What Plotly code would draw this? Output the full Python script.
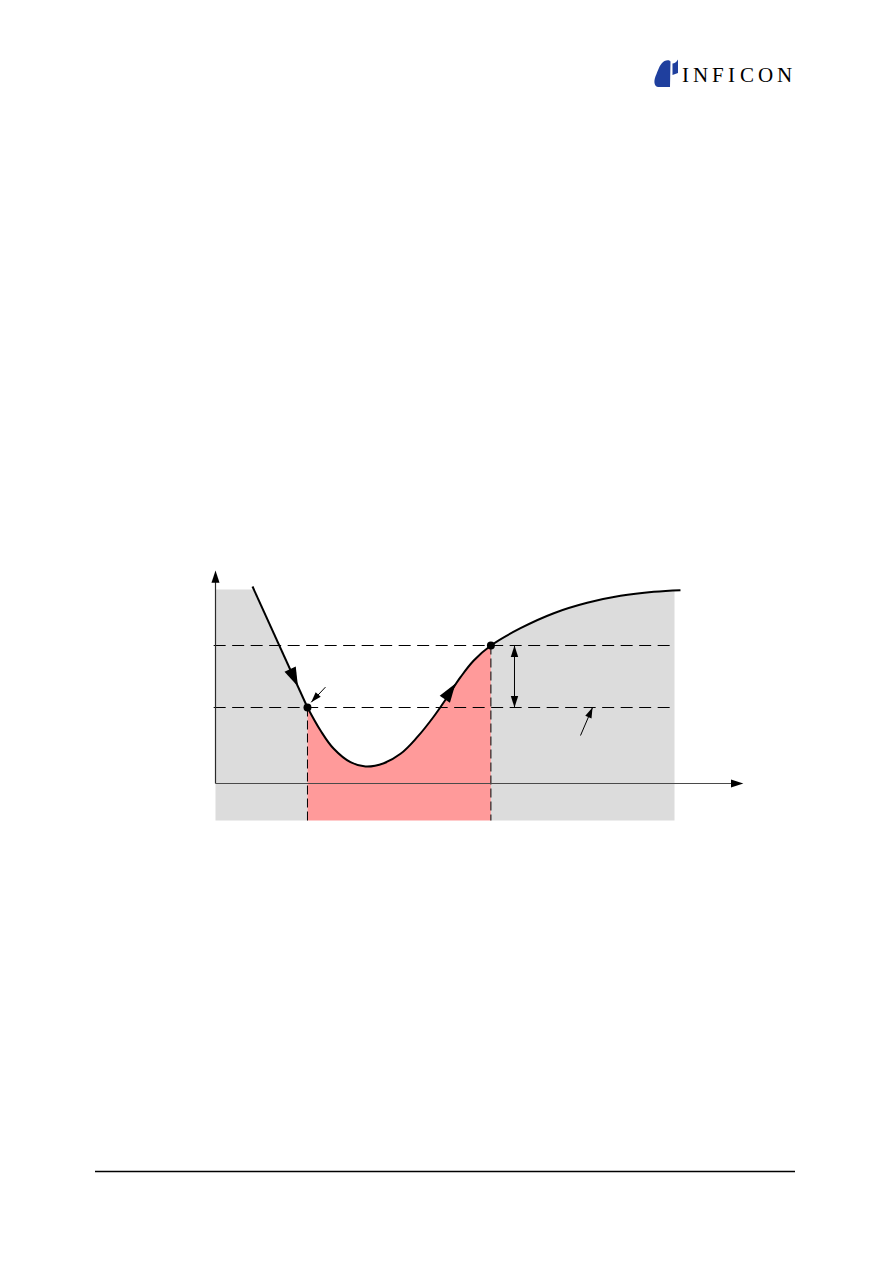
import plotly.graph_objects as go

# ---------------- data (chart units: t horizontally, p vertically) ----------------
ramp_t = [0.806, 2.004]
ramp_p = [9.85, 3.80]

curve_t = [2.004, 2.288, 2.577, 2.941, 3.268, 3.667, 4.031, 4.394, 4.756, 5.048,
           5.338, 5.627, 6.000, 6.645, 7.370, 8.098, 8.824, 9.549, 10.13]
curve_p = [3.80, 2.65, 1.735, 1.065, 0.85, 1.015, 1.485, 2.315, 3.35, 4.315,
           5.315, 6.15, 6.90, 7.765, 8.515, 9.035, 9.385, 9.585, 9.665]

upper_level = 6.9
lower_level = 3.8
t_low_cross = 2.004
t_high_cross = 6.0
t_end = 10.0
p_end_fill = 9.65
pre_level = 9.7
base_p = -1.85
y_axis_top = 10.65
x_axis_end = 11.50

arrow_down_tip = (1.797, 4.85)
arrow_up_tip = (5.229, 5.0)
gap_arrow_t = 6.514
pointer1 = [(2.396, 4.82), (2.085, 4.06)]
pointer2 = [(7.952, 2.40), (8.214, 3.80)]

logo_letters = ["I", "N", "F", "I", "C", "O", "N"]
logo_centers_px = [685.5, 700.7, 718.3, 731.8, 746.5, 765.2, 784.4]

# ---------------- geometry / style ----------------
W, H = 894, 1263
ORIGIN_PX = (215.5, 783.5)   # pixel centre of the axis origin
PX_PER_T = 45.9
PX_PER_P = 20.0
GRAY = "#dcdcdc"
PINK = "#ff9a9a"

t_range = [-ORIGIN_PX[0] / PX_PER_T, (W - ORIGIN_PX[0]) / PX_PER_T]
p_range = [-(H - ORIGIN_PX[1]) / PX_PER_P, ORIGIN_PX[1] / PX_PER_P]

fig = go.Figure()


def add(tr):
    tr.update(hoverinfo="skip", showlegend=False)
    fig.add_trace(tr)


# left gray area (flat pre-level, then under the ramp)
frac = (ramp_p[0] - pre_level) / (ramp_p[0] - ramp_p[1])
t_pre_end = ramp_t[0] + frac * (ramp_t[1] - ramp_t[0])
add(go.Scatter(x=[0, 0, t_pre_end, ramp_t[1], ramp_t[1], 0],
               y=[base_p, pre_level, pre_level, ramp_p[1], base_p, base_p],
               mode="lines", line=dict(width=0), fill="toself", fillcolor=GRAY))

# pink area under curve between crossings
pk_t = [t for t in curve_t if t_low_cross <= t <= t_high_cross]
pk_p = [p for t, p in zip(curve_t, curve_p) if t_low_cross <= t <= t_high_cross]
add(go.Scatter(x=pk_t, y=[base_p] * len(pk_t), mode="lines", line=dict(width=0)))
add(go.Scatter(x=pk_t, y=pk_p, mode="lines", line=dict(width=0, shape="spline"),
               fill="tonexty", fillcolor=PINK))

# right gray area under curve
rg_t = [t for t in curve_t if t_high_cross <= t < t_end] + [t_end]
rg_p = [p for t, p in zip(curve_t, curve_p) if t_high_cross <= t < t_end] + [p_end_fill]
add(go.Scatter(x=rg_t, y=[base_p] * len(rg_t), mode="lines", line=dict(width=0)))
add(go.Scatter(x=rg_t, y=rg_p, mode="lines", line=dict(width=0, shape="spline"),
               fill="tonexty", fillcolor=GRAY))

# dashed threshold lines
for lvl in (upper_level, lower_level):
    add(go.Scatter(x=[-0.04, t_end], y=[lvl, lvl], mode="lines",
                   line=dict(color="black", width=1, dash="12px,6.5px")))
add(go.Scatter(x=[t_low_cross, t_low_cross], y=[lower_level, base_p], mode="lines",
               line=dict(color="black", width=1, dash="9px,4px")))
add(go.Scatter(x=[t_high_cross, t_high_cross], y=[upper_level, base_p], mode="lines",
               line=dict(color="black", width=1, dash="9px,4px")))

# axes
add(go.Scatter(x=[0, 0], y=[0, y_axis_top - 0.4], mode="lines",
               line=dict(color="#2a2a2a", width=1.2)))
add(go.Scatter(x=[0, x_axis_end - 0.2], y=[0, 0], mode="lines",
               line=dict(color="#4a4a4a", width=1.2)))
add(go.Scatter(x=[0, x_axis_end], y=[y_axis_top, 0], mode="markers",
               marker=dict(symbol="arrow", size=13, color="black", angle=[0, 90],
                           line=dict(width=0))))

# signal: ramp + curve
add(go.Scatter(x=ramp_t, y=ramp_p, mode="lines", line=dict(color="black", width=2)))
add(go.Scatter(x=curve_t, y=curve_p, mode="lines",
               line=dict(color="black", width=2, shape="spline", smoothing=1.1)))

# direction arrows on the signal
add(go.Scatter(x=[arrow_down_tip[0], arrow_up_tip[0]], y=[arrow_down_tip[1], arrow_up_tip[1]],
               mode="markers",
               marker=dict(symbol="arrow", size=20, color="black", angle=[155.6, 34.2],
                           line=dict(width=0))))

# crossing points
add(go.Scatter(x=[t_low_cross, t_high_cross], y=[lower_level, upper_level], mode="markers",
               marker=dict(symbol="circle", size=8, color="black")))

# hysteresis double arrow
add(go.Scatter(x=[gap_arrow_t, gap_arrow_t], y=[upper_level, lower_level], mode="lines",
               line=dict(color="black", width=1)))
add(go.Scatter(x=[gap_arrow_t, gap_arrow_t], y=[upper_level, lower_level], mode="markers",
               marker=dict(symbol="arrow", size=12, color="black", angle=[0, 180],
                           line=dict(width=0))))

# pointer arrows
for (s, e), ang in ((pointer1, 222.0), (pointer2, 23.2)):
    add(go.Scatter(x=[s[0], e[0]], y=[s[1], e[1]], mode="lines",
                   line=dict(color="black", width=1)))
    add(go.Scatter(x=[e[0]], y=[e[1]], mode="markers",
                   marker=dict(symbol="arrow", size=11, color="black", angle=ang,
                               line=dict(width=0))))

# ---------------- page decoration: logo and footer rule ----------------
def px2paper(x, y):
    return x / W, 1 - y / H


def path_px(cmds):
    out = []
    for c in cmds:
        if isinstance(c, str):
            out.append(c)
        else:
            xx, yy = px2paper(*c)
            out.append(f"{xx:.5f},{yy:.5f}")
    return " ".join(out)


logo_blue = "#1f3f9e"
shapes = [
    dict(type="path", xref="paper", yref="paper", line=dict(width=0), fillcolor=logo_blue,
         path=path_px(["M", (658, 87), "C", (653.5, 86), (653.5, 80), (656.5, 74),
                       "C", (658.5, 69), (660.5, 63), (664.5, 61),
                       "C", (667, 60), (669.5, 60), (670.5, 61.5),
                       "L", (670, 87), "Z"])),
    dict(type="path", xref="paper", yref="paper", line=dict(width=0), fillcolor=logo_blue,
         path=path_px(["M", (672.5, 63.5), "C", (674.5, 63.5), (676.5, 62), (678, 59.5),
                       "L", (678, 73), "L", (672.5, 75), "Z"])),
]
x0, y0 = px2paper(95, 1171.5)
x1, _ = px2paper(795, 1171.5)
shapes.append(dict(type="line", xref="paper", yref="paper", x0=x0, x1=x1, y0=y0, y1=y0,
                   line=dict(color="black", width=1.3)))

annotations = []
for ch, cx in zip(logo_letters, logo_centers_px):
    ax, ay = px2paper(cx, 74.5)
    annotations.append(dict(text=ch, x=ax, y=ay, xref="paper", yref="paper",
                            showarrow=False, xanchor="center", yanchor="middle",
                            font=dict(family="Liberation Serif", size=21, color="black")))

fig.update_layout(
    width=W, height=H,
    margin=dict(l=0, r=0, t=0, b=0),
    paper_bgcolor="white", plot_bgcolor="white",
    xaxis=dict(range=t_range, visible=False, fixedrange=True),
    yaxis=dict(range=p_range, visible=False, fixedrange=True),
    shapes=shapes, annotations=annotations,
    showlegend=False,
)

fig.write_html("out.html", config={"displayModeBar": False, "staticPlot": True},
               post_script="document.body.style.margin='0';document.body.style.overflow='hidden';")
